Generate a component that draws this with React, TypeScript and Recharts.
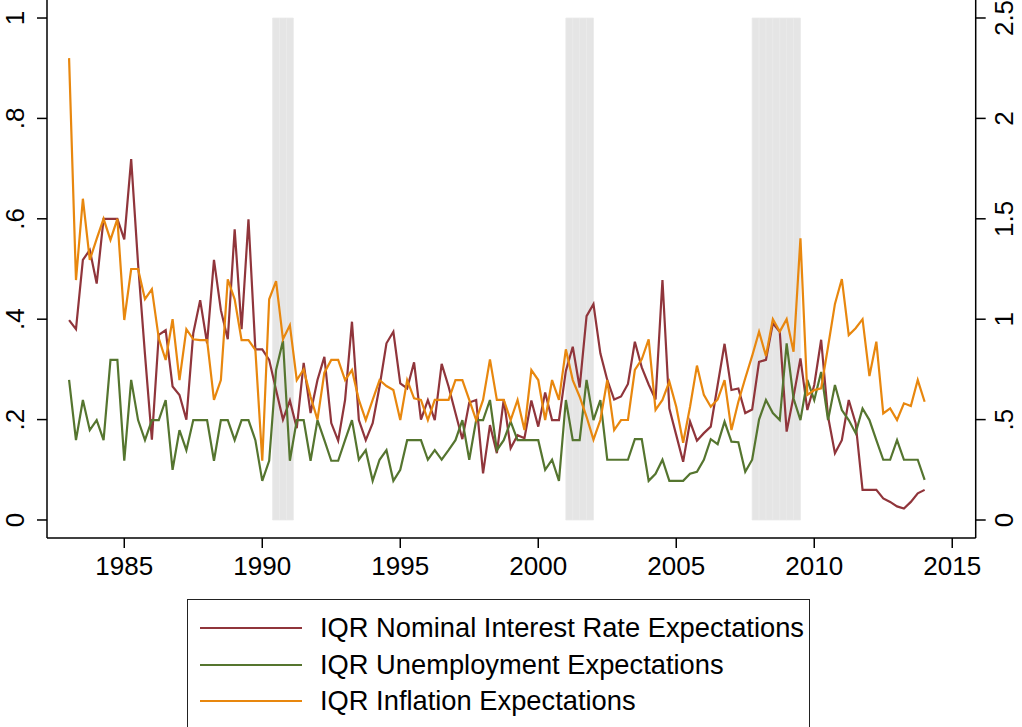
import React from "react";
import {
  LineChart,
  Line,
  XAxis,
  YAxis,
  ReferenceArea,
  Legend,
} from "recharts";

// quarterly observations, 1983Q1 - 2014Q1
const START_YEAR = 1983;

const nominal = [
  0.398, 0.38, 0.518, 0.538, 0.471, 0.6, 0.6, 0.6, 0.559, 0.719,
  0.51, 0.33, 0.16, 0.369, 0.378, 0.266, 0.249, 0.2, 0.372, 0.438,
  0.352, 0.518, 0.418, 0.36, 0.579, 0.38, 0.599, 0.34, 0.34, 0.319,
  0.259, 0.2, 0.238, 0.183, 0.313, 0.213, 0.279, 0.325, 0.193, 0.158,
  0.239, 0.395, 0.199, 0.159, 0.193, 0.266, 0.352, 0.375, 0.272, 0.262,
  0.314, 0.2, 0.239, 0.199, 0.311, 0.266, 0.213, 0.161, 0.234, 0.239,
  0.093, 0.189, 0.133, 0.24, 0.143, 0.169, 0.163, 0.238, 0.186, 0.254,
  0.199, 0.199, 0.297, 0.345, 0.264, 0.406, 0.43, 0.332, 0.279, 0.24,
  0.246, 0.271, 0.355, 0.304, 0.27, 0.24, 0.478, 0.222, 0.169, 0.116,
  0.196, 0.158, 0.173, 0.186, 0.269, 0.351, 0.259, 0.262, 0.213, 0.22,
  0.315, 0.319, 0.392, 0.375, 0.176, 0.246, 0.322, 0.219, 0.269, 0.359,
  0.206, 0.133, 0.159, 0.239, 0.193, 0.06, 0.06, 0.06, 0.043, 0.036,
  0.027, 0.023, 0.036, 0.053, 0.06,
];

const unemployment = [
  0.279, 0.159, 0.239, 0.179, 0.199, 0.159, 0.319, 0.319, 0.118, 0.279,
  0.199, 0.159, 0.199, 0.199, 0.239, 0.1, 0.179, 0.139, 0.199, 0.199,
  0.199, 0.118, 0.199, 0.199, 0.159, 0.199, 0.199, 0.159, 0.078, 0.118,
  0.299, 0.357, 0.118, 0.199, 0.199, 0.118, 0.199, 0.159, 0.118, 0.118,
  0.159, 0.199, 0.12, 0.139, 0.078, 0.12, 0.139, 0.078, 0.1, 0.159,
  0.159, 0.159, 0.12, 0.139, 0.12, 0.139, 0.159, 0.199, 0.12, 0.199,
  0.199, 0.239, 0.139, 0.159, 0.196, 0.159, 0.159, 0.159, 0.159, 0.1,
  0.12, 0.078, 0.239, 0.159, 0.159, 0.279, 0.199, 0.239, 0.12, 0.12,
  0.12, 0.12, 0.161, 0.161, 0.078, 0.092, 0.12, 0.078, 0.078, 0.078,
  0.092, 0.096, 0.12, 0.161, 0.151, 0.196, 0.156, 0.155, 0.096, 0.12,
  0.2, 0.239, 0.213, 0.199, 0.352, 0.242, 0.199, 0.279, 0.239, 0.295,
  0.199, 0.269, 0.219, 0.199, 0.173, 0.222, 0.199, 0.159, 0.12, 0.12,
  0.159, 0.12, 0.12, 0.12, 0.08,
];

const inflation = [
  2.3, 1.195, 1.6, 1.295, 1.4, 1.5, 1.395, 1.5, 0.996, 1.25,
  1.25, 1.1, 1.15, 0.905, 0.797, 1.0, 0.697, 0.95, 0.9, 0.896,
  0.896, 0.598, 0.697, 1.199, 1.099, 0.896, 0.896, 0.847, 0.295, 1.099,
  1.19, 0.9, 0.97, 0.697, 0.75, 0.614, 0.5, 0.734, 0.797, 0.797,
  0.697, 0.747, 0.598, 0.498, 0.598, 0.697, 0.667, 0.647, 0.498, 0.697,
  0.606, 0.598, 0.498, 0.598, 0.598, 0.598, 0.697, 0.697, 0.598, 0.498,
  0.598, 0.8, 0.598, 0.598, 0.498, 0.598, 0.448, 0.747, 0.697, 0.498,
  0.697, 0.598, 0.85, 0.697, 0.614, 0.514, 0.4, 0.498, 0.697, 0.448,
  0.498, 0.498, 0.747, 0.8, 0.9, 0.548, 0.598, 0.689, 0.564, 0.385,
  0.564, 0.769, 0.623, 0.564, 0.6, 0.697, 0.448, 0.589, 0.706, 0.817,
  0.938, 0.817, 1.0, 0.938, 1.0, 0.838, 1.403, 0.623, 0.647, 0.656,
  0.863, 1.076, 1.2, 0.921, 0.955, 1.0, 0.717, 0.888, 0.531, 0.556,
  0.498, 0.581, 0.568, 0.697, 0.589,
];

// start of each shaded recession quarter
const recessionQuarters = [
  1990.375, 1990.625, 1990.875,
  2001.0, 2001.25, 2001.5, 2001.75,
  2007.75, 2008.0, 2008.25, 2008.5, 2008.75, 2009.0, 2009.25,
];

const xTicks = [1985, 1990, 1995, 2000, 2005, 2010, 2015];
const leftTicks = [0, 0.2, 0.4, 0.6, 0.8, 1];
const rightTicks = [0, 0.5, 1, 1.5, 2, 2.5];

const seriesNames = [
  "IQR Nominal Interest Rate Expectations",
  "IQR Unemployment Expectations",
  "IQR Inflation Expectations",
];

const data = nominal.map((v, i) => ({
  date: START_YEAR + i / 4,
  nominal: v,
  unemployment: unemployment[i],
  inflation: inflation[i],
}));

const FONT = "'Liberation Sans', Arial, Helvetica, sans-serif";
const RED = "#90353b";
const GREEN = "#55752f";
const ORANGE = "#e8870e";

const fmtLeft = (v: number) => (v === 0 ? "0" : v === 1 ? "1" : String(v).replace(/^0/, ""));
const fmtRight = (v: number) => (v === 0 ? "0" : String(v).replace(/^0/, ""));

const BottomTick = (props: any) => {
  const { x, y, payload } = props;
  return (
    <text x={x} y={y + 27} textAnchor="middle" fill="#000" fontSize={26} fontFamily={FONT}>
      {payload.value}
    </text>
  );
};

const LeftTick = (props: any) => {
  const { x, y, payload } = props;
  const bx = x - 13;
  return (
    <text
      x={bx}
      y={y}
      transform={`rotate(-90, ${bx}, ${y})`}
      textAnchor="middle"
      fill="#000"
      fontSize={26}
      fontFamily={FONT}
    >
      {fmtLeft(payload.value)}
    </text>
  );
};

const RightTick = (props: any) => {
  const { x, y, payload } = props;
  const bx = x + 27;
  return (
    <text
      x={bx}
      y={y}
      transform={`rotate(-90, ${bx}, ${y})`}
      textAnchor="middle"
      fill="#000"
      fontSize={26}
      fontFamily={FONT}
    >
      {fmtRight(payload.value)}
    </text>
  );
};

const LegendBox = (props: any) => {
  const items = [...(props.payload || [])].sort(
    (a: any, b: any) => seriesNames.indexOf(a.value) - seriesNames.indexOf(b.value)
  );
  return (
    <div
      style={{
        boxSizing: "border-box",
        width: "100%",
        height: "100%",
        border: "1.5px solid #222",
        background: "#fff",
        paddingTop: 10,
        fontFamily: FONT,
      }}
    >
      {items.map((p: any) => (
        <div key={p.value} style={{ display: "flex", alignItems: "center", height: 36.5 }}>
          <div style={{ width: 102, height: 2, background: p.color, marginLeft: 12 }} />
          <span style={{ marginLeft: 18, fontSize: 27.3, color: "#000", whiteSpace: "nowrap" }}>
            {p.value}
          </span>
        </div>
      ))}
    </div>
  );
};

export default function App() {
  return (
    <div style={{ position: "absolute", left: 0, top: 0, background: "#fff" }}>
      <LineChart
        width={1022}
        height={727}
        data={data}
        margin={{ top: 0, right: 0, bottom: 0, left: 0 }}
      >
        <XAxis
          dataKey="date"
          type="number"
          domain={[1982.2, 2015.85]}
          ticks={xTicks}
          height={189}
          tickSize={10}
          tickMargin={0}
          stroke="#000"
          strokeWidth={1.5}
          tick={<BottomTick />}
          allowDataOverflow
        />
        <YAxis
          yAxisId="left"
          orientation="left"
          domain={[-0.0359, 1.0359]}
          ticks={leftTicks}
          width={47}
          tickSize={10}
          tickMargin={0}
          stroke="#000"
          strokeWidth={1.5}
          tick={<LeftTick />}
          allowDataOverflow
        />
        <YAxis
          yAxisId="right"
          orientation="right"
          domain={[-0.0896, 2.5896]}
          ticks={rightTicks}
          width={46.3}
          tickSize={10}
          tickMargin={0}
          stroke="#000"
          strokeWidth={1.5}
          tick={<RightTick />}
          allowDataOverflow
        />
        {recessionQuarters.map((q) => (
          <ReferenceArea
            key={q}
            yAxisId="left"
            x1={q}
            x2={q + 0.25}
            y1={0}
            y2={1}
            fill="#e5e5e5"
            fillOpacity={1}
            stroke="#eaeaea"
            strokeWidth={0.8}
            ifOverflow="visible"
          />
        ))}
        <Line
          yAxisId="left"
          type="linear"
          dataKey="nominal"
          name={seriesNames[0]}
          stroke={RED}
          strokeWidth={2.2}
          dot={false}
          isAnimationActive={false}
        />
        <Line
          yAxisId="left"
          type="linear"
          dataKey="unemployment"
          name={seriesNames[1]}
          stroke={GREEN}
          strokeWidth={2.2}
          dot={false}
          isAnimationActive={false}
        />
        <Line
          yAxisId="right"
          type="linear"
          dataKey="inflation"
          name={seriesNames[2]}
          stroke={ORANGE}
          strokeWidth={2.2}
          dot={false}
          isAnimationActive={false}
        />
        <Legend
          layout="horizontal"
          verticalAlign="middle"
          align="center"
          content={<LegendBox />}
          wrapperStyle={{ position: "absolute", left: 187, top: 599, width: 623, height: 135 }}
        />
      </LineChart>
    </div>
  );
}
